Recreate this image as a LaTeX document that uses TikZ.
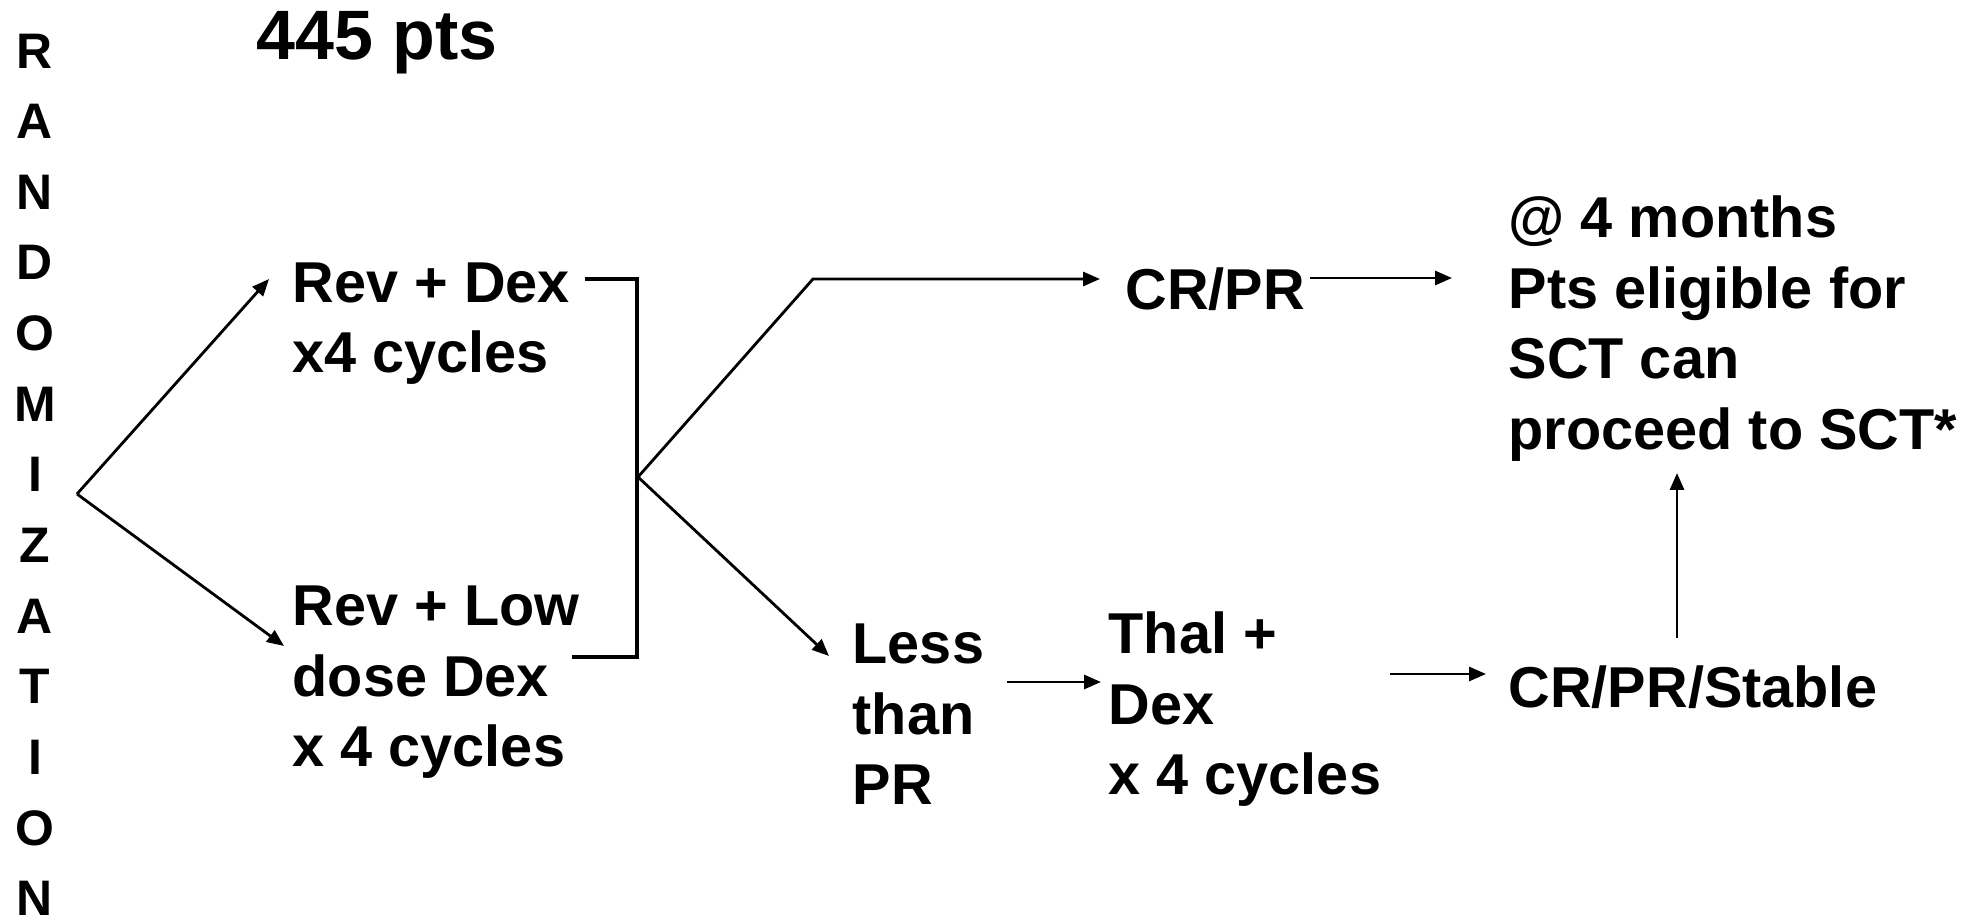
\documentclass[tikz,border=0pt]{standalone}
\usepackage{fontspec}
\setmainfont{Liberation Sans}
\usetikzlibrary{arrows.meta, positioning}
\tikzset{
  lbl/.style={anchor=north west, inner sep=0pt, align=left,
    font=\bfseries\fontsize{16.4}{20.1}\selectfont},
  toplbl/.style={lbl, font=\bfseries\fontsize{19.9}{24}\selectfont},
  vlbl/.style={anchor=north, inner sep=0pt, align=center,
    font=\bfseries\fontsize{14.2}{20.1}\selectfont},
  arrow/.style={-{Triangle[length=1.7mm, width=1.4mm]}, line width=0.8pt},
  link/.style={line width=0.8pt},
  bracket/.style={line width=1.1pt},
}

\begin{document}
\begin{tikzpicture}[x=1cm, y=-1cm]
\useasboundingbox (0,0) rectangle (19.84,9.22);
\node[vlbl] (rand) at (0.35,0.33) {R\\A\\N\\D\\O\\M\\I\\Z\\A\\T\\I\\O\\N};
\node[toplbl] (pts) at (2.56,0.11) {445 pts};
\node[lbl] (revdex) at (2.92,2.62) {Rev + Dex\\x4 cycles};
\node[lbl] (revlow) at (2.92,5.85) {Rev + Low\\dose Dex\\x 4 cycles};
\node[lbl] (less) at (8.52,6.23) {Less\\than\\PR};
\node[lbl] (crpr) at (11.25,2.67) {CR/PR};
\node[lbl] (thal) at (11.08,6.11) {Thal +\\Dex\\x 4 cycles};
\node[lbl] (sct) at (15.08,1.95) {@ 4 months\\Pts eligible for\\SCT can\\proceed to SCT*};
\node[lbl] (stable) at (15.08,6.65) {CR/PR/Stable};

% ends of the connectors
\coordinate (root) at (0.77,4.94);
\coordinate (revdex-in) at (2.69,2.79);
\coordinate (revlow-in) at (2.84,6.46);
\coordinate (revdex-out) at (5.85,2.79);
\coordinate (revlow-out) at (5.72,6.57);
\coordinate (join-top) at (6.37,2.79);
\coordinate (join-bot) at (6.37,6.57);
\coordinate (split) at (6.38,4.77);
\coordinate (knee) at (8.13,2.79);
\coordinate (crpr-in) at (11.00,2.79);
\coordinate (less-in) at (8.29,6.56);
\coordinate (less-out) at (10.07,6.82);
\coordinate (thal-in) at (11.01,6.82);
\coordinate (crpr-out) at (13.10,2.78);
\coordinate (sct-in) at (14.52,2.78);
\coordinate (thal-out) at (13.90,6.74);
\coordinate (stable-in) at (14.86,6.74);
\coordinate (stable-up) at (16.77,6.38);
\coordinate (sct-below) at (16.77,4.73);

\draw[arrow] (root)--(revdex-in);
\draw[arrow] (root)--(revlow-in);
\draw[bracket] (revdex-out)--(join-top)--(join-bot)--(revlow-out);
\draw[arrow] (split)--(knee)--(crpr-in);
\draw[arrow] (split)--(less-in);
\draw[arrow] (less-out)--(thal-in);
\draw[arrow] (crpr-out)--(sct-in);
\draw[arrow] (thal-out)--(stable-in);
\draw[arrow] (stable-up)--(sct-below);
\end{tikzpicture}
\end{document}
